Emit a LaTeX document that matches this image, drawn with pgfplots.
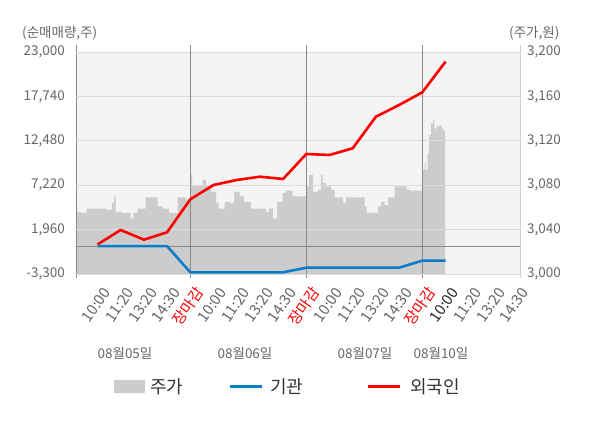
\documentclass[border=0pt]{standalone}
\usepackage{pgfplots}
\pgfplotsset{compat=1.18}
\usepackage{fontspec}
\setmainfont{Noto Sans CJK KR}
\definecolor{txt}{HTML}{666666}
\definecolor{bgc}{HTML}{F4F4F4}
\definecolor{areac}{HTML}{CCCCCC}
\definecolor{gridc}{HTML}{DCDCDC}
\definecolor{axc}{HTML}{8A8A8A}
\definecolor{rlc}{HTML}{D0D0D0}
\definecolor{bluec}{HTML}{0A7DC8}
\definecolor{redc}{HTML}{FF0000}
\begin{document}
\begin{tikzpicture}[x=1pt,y=1pt]
\path[use as bounding box] (0,0) rectangle (600,428);
% ---------- price axis (right), x in pixel units ----------
\begin{axis}[
  at={(76pt,154pt)}, anchor=south west, scale only axis,
  width=444pt, height=222pt,
  xmin=76, xmax=520, ymin=3000, ymax=3200,
  scaled x ticks=false, scaled y ticks=false,
  axis background/.style={fill=bgc},
  axis line style={draw=none},
  axis on top,
  clip=false,
  xtick=\empty,
  ytick={3000,3040,3080,3120,3160,3200},
  yticklabels={{3,000},{3,040},{3,080},{3,120},{3,160},{3,200}},
  yticklabel pos=right,
  major tick length=0pt,
  ymajorgrids, major grid style={gridc, line width=0.8pt},
  extra y ticks={3025.095}, extra y tick labels={},
  extra y tick style={grid=major, major grid style={axc, line width=0.8pt}},
  extra x ticks={190.3,306.3,422.3}, extra x tick labels={},
  extra x tick style={grid=major, major grid style={axc, line width=0.8pt}},
  yticklabel style={font=\fontsize{13.5}{14}\selectfont, text=txt, anchor=west, inner sep=0pt, xshift=7pt},
]
\addplot[fill=areac, draw=none, const plot] coordinates {
(76,3058)(77.5,3056)(80.5,3055)(86.5,3059)(105.5,3058)(112,3064)(114,3070)(115.5,3056)(121.5,3055)(130.5,3050)(133.5,3055)(137.5,3059)(145.5,3069)(157.5,3061)(162.5,3059)(169,3055)(177.5,3069)(185.5,3067)(190.5,3089)
(192,3079)(196,3080)(202.5,3085)(206,3080)(211,3074)(216,3064)(218.5,3059)(224.5,3065)(229.5,3064)(234,3074)(239.5,3070)(244,3065)(251,3059)(266,3056)(269,3059)(273,3050)(277,3065)(282.5,3073)(286,3075)(292.5,3070)
(306.5,3079)(309,3089)(313,3074)(318,3076)(321,3089)(322.5,3082)(326,3079)(331,3076)(334.5,3069)(343,3064)(346,3069)(364.5,3061)(366.5,3055)(378,3061)(381,3065)(384.5,3062)(388,3069)(394.5,3079)(406.5,3076)(410,3075)
(422.5,3094)(424.5,3100)(425.5,3094)(427.5,3109)(429,3125)(431,3136)(433.3,3139)(434.3,3131)(436.7,3133)(439,3134)(441.7,3131)(443.3,3129)(445,3129)
} \closedcycle;
% frame lines
\draw[rlc, line width=0.8pt] ([yshift=7pt]rel axis cs:1,1) -- ([yshift=-4pt]rel axis cs:1,0);
\draw[axc, line width=0.8pt] (rel axis cs:0,0) -- (rel axis cs:1,0);
\draw[axc, line width=0.8pt] ([yshift=7pt]rel axis cs:0,1) -- ([yshift=-4pt]rel axis cs:0,0);
\draw[axc, line width=0.8pt] (axis cs:190.3,3200) -- ([yshift=7pt]axis cs:190.3,3200);
\draw[axc, line width=0.8pt] (axis cs:190.3,3000) -- ([yshift=-4pt]axis cs:190.3,3000);
\draw[axc, line width=0.8pt] (axis cs:306.3,3200) -- ([yshift=7pt]axis cs:306.3,3200);
\draw[axc, line width=0.8pt] (axis cs:306.3,3000) -- ([yshift=-4pt]axis cs:306.3,3000);
\draw[axc, line width=0.8pt] (axis cs:422.3,3200) -- ([yshift=7pt]axis cs:422.3,3200);
\draw[axc, line width=0.8pt] (axis cs:422.3,3000) -- ([yshift=-4pt]axis cs:422.3,3000);
\end{axis}
% ---------- net volume axis (left), x in slot index ----------
\begin{axis}[
  at={(76pt,154pt)}, anchor=south west, scale only axis,
  width=444pt, height=222pt,
  xmin=-0.9267, xmax=18.211, ymin=-3300, ymax=23000,
  scaled x ticks=false, scaled y ticks=false,
  axis line style={draw=none},
  clip=false,
  major tick length=0pt,
  xtick={0,...,18},
  xticklabels={10:00,11:20,13:20,14:30,\textcolor{red}{장마감},10:00,11:20,13:20,14:30,\textcolor{red}{장마감},10:00,11:20,13:20,14:30,\textcolor{red}{장마감},\textcolor{black!85}{10:00},11:20,13:20,14:30},
  xticklabel style={xshift=9.5pt, yshift=-15.2pt, rotate=55, anchor=east, inner sep=0pt, text height=11pt, text depth=0pt, font=\fontsize{15}{15}\selectfont, text=txt},
  ytick={-3300,1960,7220,12480,17740,23000},
  yticklabels={{-3,300},{1,960},{7,220},{12,480},{17,740},{23,000}},
  yticklabel style={font=\fontsize{13.5}{14}\selectfont, text=txt, anchor=east, inner sep=0pt, xshift=-11pt},
]
\addplot[bluec, line width=2.6pt, line join=round] coordinates {
(0,0)(1,0)(2,0)(3,0)(4,-3100)(5,-3100)(6,-3100)(7,-3100)(8,-3100)(9,-2550)(10,-2550)(11,-2550)(12,-2550)(13,-2550)(14,-1720)(15,-1720)
};
\addplot[redc, line width=2.6pt, line join=round] coordinates {
(0,200)(1,1913)(2,764)(3,1640)(4,5550)(5,7244)(6,7836)(7,8227)(8,7955)(9,10916)(10,10800)(11,11592)(12,15336)(13,16721)(14,18225)(15,21852)
};
\end{axis}
% ---------- texts ----------
\node[anchor=west, text=txt, font=\fontsize{13.5}{14}\selectfont, inner sep=0pt] at (22,395) {(순매매량,주)};
\node[anchor=west, text=txt, font=\fontsize{13.5}{14}\selectfont, inner sep=0pt] at (509,395) {(주가,원)};
\node[text=txt, font=\fontsize{13.5}{14}\selectfont, inner sep=0pt] at (125,75) {08월05일};
\node[text=txt, font=\fontsize{13.5}{14}\selectfont, inner sep=0pt] at (245,75) {08월06일};
\node[text=txt, font=\fontsize{13.5}{14}\selectfont, inner sep=0pt] at (365,75) {08월07일};
\node[text=txt, font=\fontsize{13.5}{14}\selectfont, inner sep=0pt] at (441,75) {08월10일};
% legend
\fill[areac] (114,35) rectangle (145,48);
\node[anchor=west, text=black!80, font=\fontsize{18}{18}\selectfont, inner sep=0pt] at (150,41.5) {주가};
\draw[bluec, line width=2.6pt] (230,41.5) -- (262,41.5);
\node[anchor=west, text=black!80, font=\fontsize{18}{18}\selectfont, inner sep=0pt] at (270,41.5) {기관};
\draw[redc, line width=2.6pt] (368,41.5) -- (400,41.5);
\node[anchor=west, text=black!80, font=\fontsize{18}{18}\selectfont, inner sep=0pt] at (410,41.5) {외국인};
\end{tikzpicture}
\end{document}
